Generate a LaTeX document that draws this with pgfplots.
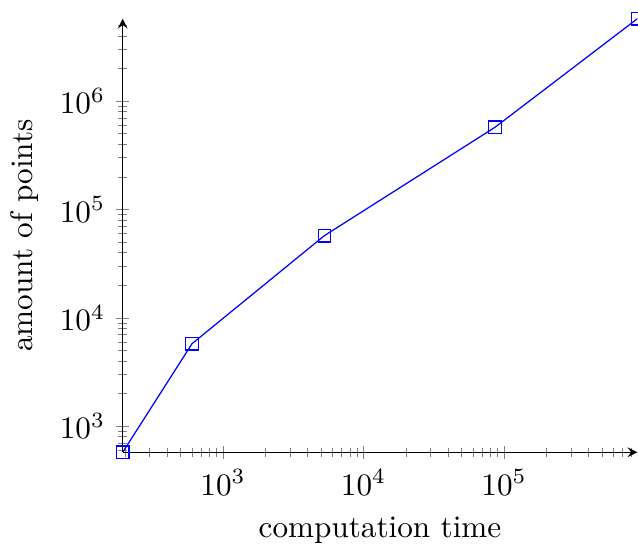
\documentclass[border=0pt]{standalone}
\usepackage{pgfplots}
\pgfplotsset{compat=1.18}
\begin{document}
\begin{tikzpicture}
\begin{loglogaxis}[
    scale only axis,
    width=165pt,
    height=139pt,
    axis lines=left,
    tick align=center,
    xlabel={computation time},
    ylabel={amount of points},
    xmin=193, xmax=8.9e5,
    ymin=576, ymax=5.76e6,
]

% markers kept out of the bounding box, as in the original
\addplot[blue,mark=square,mark options={solid,draw=blue},overlay]
coordinates {
(193,576)
(601,5780)
(5265,57400)
(86300,574000)
(8.9e5,5.76e6)
};

\end{loglogaxis}
% blank room above the arrow
\path (current axis.north west) ++(0,6pt);
\end{tikzpicture}
\end{document}
